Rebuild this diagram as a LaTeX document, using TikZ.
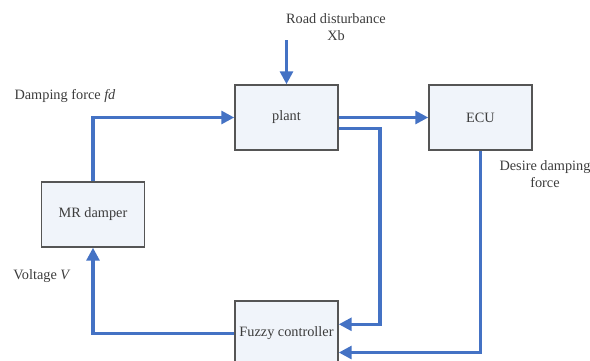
\documentclass[tikz,border=0pt]{standalone}
\usepackage{fontspec}
\setmainfont{Liberation Serif}
\usetikzlibrary{arrows.meta,positioning}
\definecolor{flowblue}{RGB}{68,114,196}
\definecolor{boxfill}{RGB}{240,244,250}
\definecolor{boxline}{RGB}{85,85,85}
\definecolor{labeltext}{RGB}{60,60,60}

\begin{document}
\begin{tikzpicture}[x=0.03cm, y=0.03cm]
\tikzstyle{every node}+=[font=\fontsize{12.2}{14}\selectfont, text=labeltext]
\tikzstyle{block}=[draw=boxline, line width=1.3pt, fill=boxfill, minimum width=3.09cm, minimum height=1.95cm, inner sep=0pt]
\tikzstyle{flow}=[flowblue, line width=2.6pt, -{Triangle[length=11pt,width=11pt]}]
\useasboundingbox (0,0) rectangle (590,-360);
% blocks
\node [block] (plant) at (286.5,-117.5) {plant};
\node [block] (ecu) at (480.5,-117.5) {ECU};
\node [block] (damper) at (93,-214.5) {MR damper};
\node [block] (fuzzy) at (286.5,-333.5) {Fuzzy controller};
% labels
\node [align=center] (roadlbl) at (336,-27) {Road disturbance\\Xb};
\node (fdlbl) at (65,-96) {Damping force \textit{fd}};
\node (vlbl) at (42,-276) {Voltage \textit{V}};
\node [align=center] (desirelbl) at (545,-174) {Desire damping\\force};
\coordinate (road) at (286.5,-40);
% signals
\draw [flow] (road) -- (plant.north);
\draw [flow] (damper.north) |- (plant.west);
\draw [flow] (plant.east) -- (ecu.west);
\draw [flow] (plant.-12) -| (380,-240) |- (fuzzy.10);
\draw [flow] (ecu.south) |- (fuzzy.-20);
\draw [flow] (fuzzy.west) -| (damper.south);
\end{tikzpicture}
\end{document}
